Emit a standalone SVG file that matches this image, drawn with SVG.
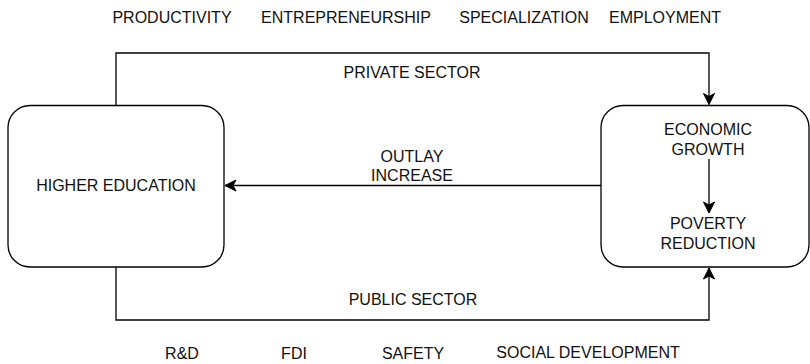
<svg xmlns="http://www.w3.org/2000/svg" width="810" height="364" viewBox="0 0 810 364">
  <defs>
    <style>
      .box { fill: #ffffff; stroke: #000000; stroke-width: 1.3; }
      .line { fill: none; stroke: #000000; stroke-width: 1.3; }
      text { font-family: "Liberation Sans", Arial, Helvetica, sans-serif; font-size: 16px; fill: #111111; text-anchor: middle; }
    </style>
    <marker id="arrow" markerUnits="userSpaceOnUse" markerWidth="14" markerHeight="14" viewBox="-1 -7 14 14" refX="11" refY="0" orient="auto">
      <path d="M0,-5.5 L11,0 L0,5.5 L3,0 Z" fill="#000000" stroke="#000000" stroke-width="1"/>
    </marker>
  </defs>

  <rect width="810" height="364" fill="#ffffff"/>

  <!-- headline factors -->
  <g id="top-labels">
    <text x="172" y="23">PRODUCTIVITY</text>
    <text x="346" y="23">ENTREPRENEURSHIP</text>
    <text x="524" y="23">SPECIALIZATION</text>
    <text x="665" y="23">EMPLOYMENT</text>
  </g>

  <g id="higher-education">
    <rect class="box" x="8" y="105.5" width="216" height="161.5" rx="22" ry="22"/>
    <text x="116" y="191">HIGHER EDUCATION</text>
  </g>

  <g id="outcomes">
    <rect class="box" x="601" y="105.5" width="208" height="161.5" rx="22" ry="22"/>
    <text x="708" y="135">ECONOMIC</text>
    <text x="708" y="155">GROWTH</text>
    <text x="708" y="229">POVERTY</text>
    <text x="708" y="249">REDUCTION</text>
  </g>

  <g id="connectors">
    <path class="line" d="M116,105.5 V53 H709 V104.5" marker-end="url(#arrow)"/>
    <path class="line" d="M116,267 V320 H709 V268" marker-end="url(#arrow)"/>
    <path class="line" d="M601,185.5 H225" marker-end="url(#arrow)"/>
    <path class="line" d="M709,159 V213" marker-end="url(#arrow)"/>
    <text x="412" y="78">PRIVATE SECTOR</text>
    <text x="412" y="162">OUTLAY</text>
    <text x="412" y="181">INCREASE</text>
    <text x="413" y="305">PUBLIC SECTOR</text>
  </g>

  <!-- supporting factors -->
  <g id="bottom-labels">
    <text x="182" y="359">R&amp;D</text>
    <text x="294" y="359">FDI</text>
    <text x="413" y="359">SAFETY</text>
    <text x="588" y="358">SOCIAL DEVELOPMENT</text>
  </g>
</svg>
